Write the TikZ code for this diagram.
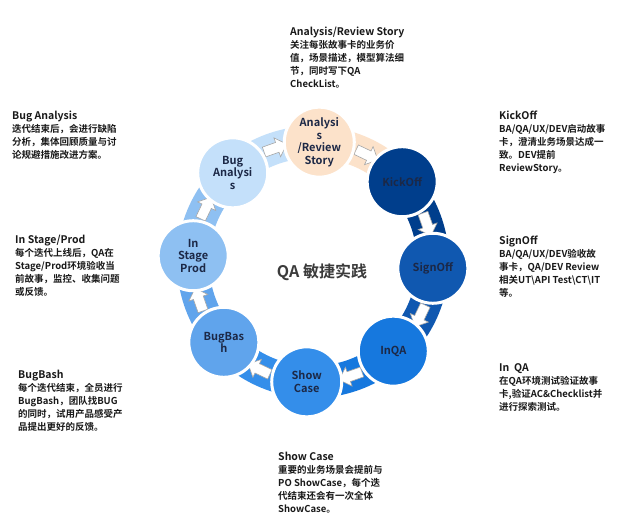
\documentclass[tikz,border=0pt]{standalone}
\usepackage{fontspec}
\setmainfont{Noto Sans CJK SC}[BoldFont={Noto Sans CJK SC Bold}]
\usetikzlibrary{shapes.arrows,calc}
\definecolor{c0}{RGB}{252,226,202}
\definecolor{c1}{RGB}{0,62,140}
\definecolor{c2}{RGB}{16,88,176}
\definecolor{c3}{RGB}{22,120,222}
\definecolor{c4}{RGB}{52,142,234}
\definecolor{c5}{RGB}{96,164,236}
\definecolor{c6}{RGB}{142,192,242}
\definecolor{c7}{RGB}{196,224,250}
\definecolor{ink}{RGB}{25,25,25}
\definecolor{nodeink}{RGB}{28,40,70}
\tikzset{
 x=1pt,y=-1pt,
 stage/.style={circle,minimum size=70pt,inner sep=0pt,draw=white,line width=3pt,font=\bfseries\fontsize{11}{12.5}\selectfont,text=nodeink,align=center},
 flow/.style={single arrow,fill=white,draw=gray!70,line width=0.6pt,minimum height=24pt,minimum width=20pt,single arrow head extend=4pt,inner xsep=1pt,inner ysep=4pt,shape border uses incircle=false},
 desc/.style={anchor=north west,align=left,font=\bfseries\fontsize{9.5}{13}\selectfont,text=ink,inner sep=0pt}
}
\begin{document}
\begin{tikzpicture}
\useasboundingbox (0,0) rectangle (640,529);
\fill[white] (0,0) rectangle (640,529);
\coordinate (ctr) at (313,262);
% ring segments
\foreach \k in {0,...,7}{
 \pgfmathsetmacro{\a}{87-45*\k}
 \pgfmathsetmacro{\b}{87-45*(\k+1)}
 \begin{scope}[shift={(313,262)}]
 \fill[c\k] plot[domain=\a:\b,samples=24] ({136*cos(\x)},{-136*sin(\x)}) -- plot[domain=\b:\a,samples=24] ({104*cos(\x)},{-104*sin(\x)}) -- cycle;
 \end{scope}
}
\foreach \k in {0,...,7}{
 \pgfmathsetmacro{\m}{87-45*\k-22.5}
 \node[flow,rotate=\m-90] (f\k) at ($(ctr)+({120*cos(\m)},{-120*sin(\m)})$) {};
}
\node[stage,fill=c0] (n0) at ($(ctr)+({120*cos(87)},{-120*sin(87)})$) {Analysi\\s\\/Review\\Story};
\node[stage,fill=c1] (n1) at ($(ctr)+({120*cos(42)},{-120*sin(42)})$) {KickOff};
\node[stage,fill=c2] (n2) at ($(ctr)+({120*cos(-3)},{-120*sin(-3)})$) {SignOff};
\node[stage,fill=c3] (n3) at ($(ctr)+({120*cos(-48)},{-120*sin(-48)})$) {InQA};
\node[stage,fill=c4] (n4) at ($(ctr)+({120*cos(-93)},{-120*sin(-93)})$) {Show\\Case};
\node[stage,fill=c5] (n5) at ($(ctr)+({120*cos(-138)},{-120*sin(-138)})$) {BugBas\\h};
\node[stage,fill=c6] (n6) at ($(ctr)+({120*cos(-183)},{-120*sin(-183)})$) {In\\Stage\\Prod};
\node[stage,fill=c7] (n7) at ($(ctr)+({120*cos(132)},{-120*sin(132)})$) {Bug\\Analysi\\s};
\node[font=\bfseries\fontsize{16}{18}\selectfont,text=ink!85] (title) at (322,272) {QA 敏捷实践};
% descriptions
\node[desc] (d0) at (290,27) {{\fontsize{10.5}{13}\selectfont Analysis/Review Story}\\关注每张故事卡的业务价\\值，场景描述，模型算法细\\节，同时写下QA\\CheckList。};
\node[desc] (d1) at (499,111) {{\fontsize{10.5}{13}\selectfont KickOff}\\BA/QA/UX/DEV启动故事\\卡，澄清业务场景达成一\\致。DEV提前\\ReviewStory。};
\node[desc] (d2) at (499,236) {{\fontsize{10.5}{13}\selectfont SignOff}\\BA/QA/UX/DEV验收故\\事卡，QA/DEV Review\\相关UT\textbackslash API Test\textbackslash CT\textbackslash IT\\等。};
\node[desc] (d3) at (499,363) {{\fontsize{10.5}{13}\selectfont In\ \ QA}\\在QA环境测试验证故事\\卡,验证AC\&Checklist并\\进行探索测试。};
\node[desc] (d4) at (278,452) {{\fontsize{10.5}{13}\selectfont Show Case}\\重要的业务场景会提前与\\PO ShowCase，每个迭\\代结束还会有一次全体\\ShowCase。};
\node[desc] (d5) at (12,111) {{\fontsize{10.5}{13}\selectfont Bug Analysis}\\迭代结束后，会进行缺陷\\分析，集体回顾质量与讨\\论规避措施改进方案。};
\node[desc] (d6) at (15,235) {{\fontsize{10.5}{13}\selectfont In Stage/Prod}\\每个迭代上线后，QA在\\Stage/Prod环境验收当\\前故事，监控、收集问题\\或反馈。};
\node[desc] (d7) at (18,370) {{\fontsize{10.5}{13}\selectfont BugBash}\\每个迭代结束，全员进行\\BugBash，团队找BUG\\的同时，试用产品感受产\\品提出更好的反馈。};
\end{tikzpicture}
\end{document}
